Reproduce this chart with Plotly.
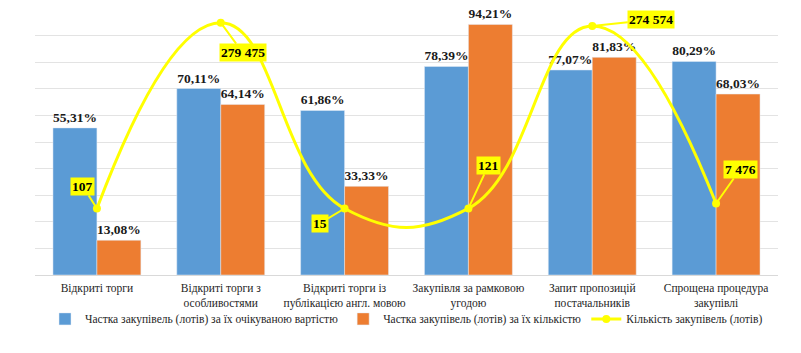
import plotly.graph_objects as go

categories = [
    "Відкриті торги",
    "Відкриті торги з<br>особливостями",
    "Відкриті торги із<br>публікацією англ. мовою",
    "Закупівля за рамковою<br>угодою",
    "Запит пропозицій<br>постачальників",
    "Спрощена процедура<br>закупівлі",
]
share_value = [55.31, 70.11, 61.86, 78.39, 77.07, 80.29]
share_count = [13.08, 64.14, 33.33, 94.21, 81.83, 68.03]
lots_count = [107, 279475, 15, 121, 274574, 7476]
lots_labels = ["107", "279 475", "15", "121", "274 574", "7 476"]
# label offsets (pixels) for callouts
label_ax = [-14, 22, -25, 20, 59, 24]
label_ay = [-22, 30, 15, -43, -6, -34]

FONT = "Liberation Serif, Times New Roman, serif"

def pct(v):
    return "<b>" + f"{v:.2f}%".replace(".", ",") + "</b>"

fig = go.Figure()
fig.add_trace(go.Bar(
    x=categories, y=share_value, name="Частка закупівель (лотів) за їх очікуваною вартістю",
    marker_color="#5B9BD5", text=[pct(v) for v in share_value], textposition="outside",
    textfont=dict(family=FONT, size=13.5, color="#1a1a1a"), cliponaxis=False,
))
fig.add_trace(go.Bar(
    x=categories, y=share_count, name="Частка закупівель (лотів) за їх кількістю",
    marker_color="#ED7D31", text=[pct(v) for v in share_count], textposition="outside",
    textfont=dict(family=FONT, size=13.5, color="#1a1a1a"), cliponaxis=False,
))
fig.add_trace(go.Scatter(
    x=categories, y=lots_count, name="Кількість закупівель (лотів)", yaxis="y2",
    mode="lines+markers", line=dict(color="#FFFF00", width=3, shape="spline", smoothing=1.3),
    marker=dict(color="#FFFF00", size=8), cliponaxis=False,
))

for c, v, t, ax, ay in zip(categories, lots_count, lots_labels, label_ax, label_ay):
    fig.add_annotation(
        x=c, y=v, xref="x", yref="y2", text=f"<b>{t}</b>", showarrow=True,
        ax=ax, ay=ay, arrowhead=0, arrowwidth=2, arrowcolor="#FFFF00", standoff=0,
        bgcolor="#FFFF00", borderpad=1, font=dict(family=FONT, size=13.5, color="#000000"),
    )

fig.update_layout(
    width=801, height=353,
    margin=dict(l=35, r=23, t=9, b=78, autoexpand=False),
    paper_bgcolor="white", plot_bgcolor="white",
    barmode="group", bargap=0.29, bargroupgap=0,
    font=dict(family=FONT, size=11, color="#404040"),
    xaxis=dict(showline=True, linecolor="#D9D9D9", linewidth=1, ticks="", tickangle=0,
               automargin=False, ticklabelstandoff=2,
               tickfont=dict(family=FONT, size=11.5, color="#262626")),
    yaxis=dict(range=[0, 100], tickvals=[10, 20, 30, 40, 50, 60, 70, 80, 90],
               showticklabels=False, gridcolor="#E3E3E3", gridwidth=1, zeroline=False,
               automargin=False),
    yaxis2=dict(range=[-100000, 300000], overlaying="y", side="right",
                showgrid=False, showticklabels=False, zeroline=False, automargin=False),
    legend=dict(orientation="h", x=0.5, xanchor="center", y=-0.165, yanchor="middle",
                bgcolor="rgba(0,0,0,0)",
                font=dict(family=FONT, size=11.5, color="#262626"), traceorder="normal",
                itemwidth=30, tracegroupgap=0),
    showlegend=True,
)

fig.write_html("out.html")
